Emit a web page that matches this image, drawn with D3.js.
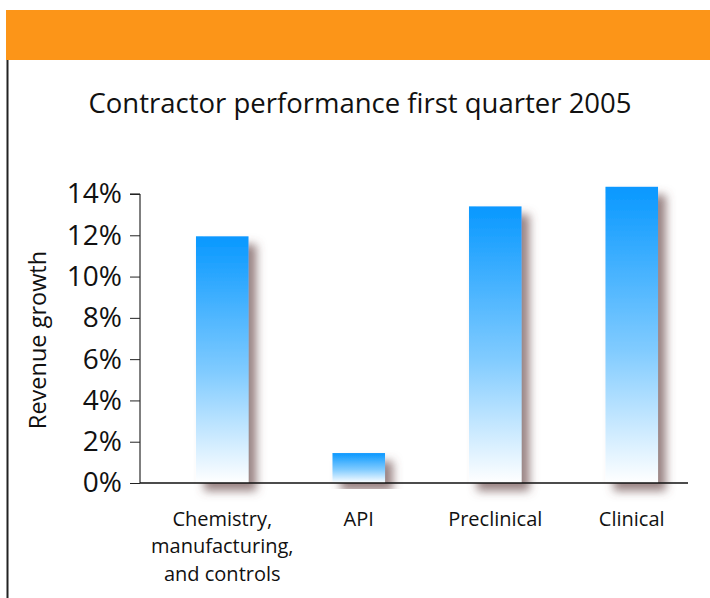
<!DOCTYPE html>
<html>
<head>
<meta charset="utf-8">
<script src="https://cdn.jsdelivr.net/npm/d3@7"></script>
<style>
  body { margin: 0; background: #fff; }
  svg { display: block; font-family: "Open Sans", "Noto Sans", sans-serif; }
</style>
</head>
<body>
<svg id="chart"></svg>
<script>
// chart data
const categories = ["Chemistry,\nmanufacturing,\nand controls", "API", "Preclinical", "Clinical"];
const growth = [11.95, 1.45, 13.4, 14.35];
const tickValues = [0, 2, 4, 6, 8, 10, 12, 14];
const titleText = "Contractor performance first quarter 2005";
const yLabel = "Revenue growth";

const width = 710;
const height = 598;

const svg = d3.select("#chart")
    .attr("width", width)
    .attr("height", height);

const defs = svg.append("defs");

const grad = defs.append("linearGradient")
    .attr("id", "barGrad")
    .attr("x1", 0).attr("y1", 0)
    .attr("x2", 0).attr("y2", 1);
grad.append("stop").attr("offset", "0%").attr("stop-color", "#0898ff");
grad.append("stop").attr("offset", "55%").attr("stop-color", "#80cbff");
grad.append("stop").attr("offset", "100%").attr("stop-color", "#ffffff");

const shadow = defs.append("filter")
    .attr("id", "shadow")
    .attr("x", "-40%").attr("y", "-10%")
    .attr("width", "190%").attr("height", "130%");
shadow.append("feDropShadow")
    .attr("dx", 8).attr("dy", 8)
    .attr("stdDeviation", 5)
    .attr("flood-color", "#6e4f4f")
    .attr("flood-opacity", 0.7);

// orange header band and left rule
svg.append("rect")
    .attr("x", 6).attr("y", 10)
    .attr("width", width - 6).attr("height", 50)
    .attr("fill", "#fc9518");

svg.append("line")
    .attr("x1", 7.5).attr("x2", 7.5)
    .attr("y1", 60).attr("y2", height)
    .attr("stroke", "#222")
    .attr("stroke-width", 2);

svg.append("text")
    .attr("x", 360).attr("y", 113)
    .attr("text-anchor", "middle")
    .attr("font-size", 27.5)
    .attr("fill", "#111")
    .text(titleText);

const x = d3.scaleBand()
    .domain(categories)
    .range([154, 700])
    .paddingInner(0.615)
    .paddingOuter(0.3075);

const y = d3.scaleLinear()
    .domain([0, 14])
    .range([483, 194]);

// bars
svg.append("g")
    .selectAll("rect")
    .data(categories)
    .enter()
    .append("rect")
    .attr("x", d => x(d))
    .attr("y", (d, i) => y(growth[i]))
    .attr("width", x.bandwidth())
    .attr("height", (d, i) => y(0) - y(growth[i]))
    .attr("fill", "url(#barGrad)")
    .attr("filter", "url(#shadow)");

// y axis
const yAxis = svg.append("g")
    .attr("transform", "translate(140,0)")
    .call(d3.axisLeft(y).tickValues(tickValues).tickSize(10).tickPadding(8)
        .tickFormat(d => d + "%"));
yAxis.select(".domain").attr("d", "M-10," + y(14) + "H0V" + y(0));
yAxis.selectAll("line").attr("stroke", "#222");
yAxis.selectAll("text")
    .attr("font-size", 28)
    .attr("fill", "#111")
    .attr("font-family", "'Open Sans', sans-serif");

// baseline
svg.append("line")
    .attr("x1", 140).attr("x2", 688)
    .attr("y1", y(0)).attr("y2", y(0))
    .attr("stroke", "#111")
    .attr("stroke-width", 1.5);

svg.append("text")
    .attr("transform", "translate(46,340) rotate(-90)")
    .attr("text-anchor", "middle")
    .attr("font-size", 23.5)
    .attr("fill", "#111")
    .text(yLabel);

// category labels, one text per line
const labelLines = [];
categories.forEach(c => {
    c.split("\n").forEach((l, i) => labelLines.push({ cat: c, line: l, row: i }));
});

svg.append("g")
    .selectAll("text")
    .data(labelLines)
    .enter()
    .append("text")
    .attr("x", d => x(d.cat) + x.bandwidth() / 2)
    .attr("y", d => 526 + d.row * 27.3)
    .attr("text-anchor", "middle")
    .attr("font-size", 20)
    .attr("fill", "#111")
    .text(d => d.line);
</script>
</body>
</html>
